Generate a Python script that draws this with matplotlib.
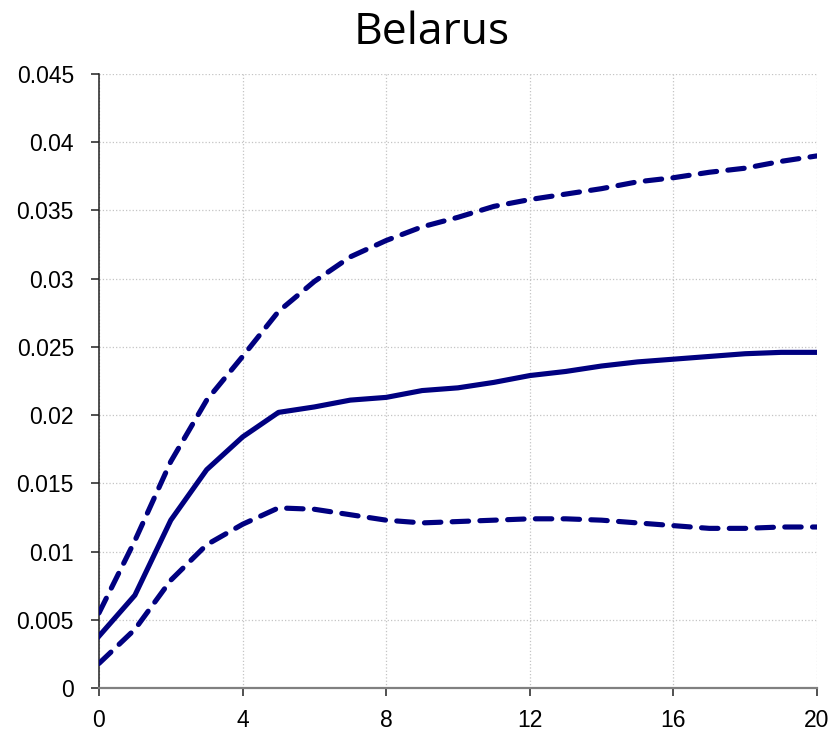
import matplotlib
matplotlib.use("Agg")
import matplotlib.pyplot as plt

# horizon and impulse response (median + bands)
horizon = list(range(21))
median = [0.0038, 0.0068, 0.0123, 0.0160, 0.0184, 0.0202, 0.0206, 0.0211, 0.0213,
          0.0218, 0.0220, 0.0224, 0.0229, 0.0232, 0.0236, 0.0239, 0.0241, 0.0243,
          0.0245, 0.0246, 0.0246]
upper = [0.0055, 0.0108, 0.0166, 0.0211, 0.0243, 0.0276, 0.0298, 0.0316, 0.0328,
         0.0338, 0.0345, 0.0353, 0.0358, 0.0362, 0.0366, 0.0371, 0.0374, 0.0378,
         0.0381, 0.0386, 0.0390]
lower = [0.0018, 0.0043, 0.0079, 0.0105, 0.0120, 0.0132, 0.0131, 0.0127, 0.0123,
         0.0121, 0.0122, 0.0123, 0.0124, 0.0124, 0.0123, 0.0121, 0.0119, 0.0117,
         0.0117, 0.0118, 0.0118]
xticks = [0, 4, 8, 12, 16, 20]
yticks = [0, 0.005, 0.01, 0.015, 0.02, 0.025, 0.03, 0.035, 0.04, 0.045]
ylabels = ["0", "0.005", "0.01", "0.015", "0.02", "0.025", "0.03", "0.035", "0.04", "0.045"]

navy = "#000080"

fig = plt.figure(figsize=(8.34, 7.33), dpi=100)
ax = fig.add_axes([0.1187, 0.0614, 0.8609, 0.8376])

ax.plot(horizon, median, color=navy, lw=3.7, solid_joinstyle="round", zorder=3)
for band in (upper, lower):
    ax.plot(horizon, band, color=navy, lw=3.7, linestyle=(0, (3.2, 2.2)),
            dash_capstyle="round", zorder=3)

ax.set_xlim(0, 20)
ax.set_ylim(0, 0.045)
ax.set_xticks(xticks)
ax.set_yticks(yticks)
ax.set_yticklabels(ylabels)
ax.grid(True, color="#c4c4c4", linestyle=":", linewidth=0.9)

for side in ("top", "right"):
    ax.spines[side].set_visible(False)
ax.spines["left"].set_color("#202020")
ax.spines["left"].set_linewidth(1.1)
ax.spines["bottom"].set_color("#808080")
ax.spines["bottom"].set_linewidth(1.6)
ax.spines["bottom"].set_zorder(4)

ax.tick_params(direction="out", length=6, width=1.1, color="#202020",
               labelsize=16.5)
ax.tick_params(axis="y", pad=12)
ax.tick_params(axis="x", pad=9)
for lab in ax.get_xticklabels() + ax.get_yticklabels():
    lab.set_family(["Liberation Sans", "DejaVu Sans"])

fig.text(0.518, 0.955, "Belarus", fontsize=32, ha="center", va="center",
         family=["Open Sans", "DejaVu Sans"])

fig.savefig("out.png", dpi=100)
